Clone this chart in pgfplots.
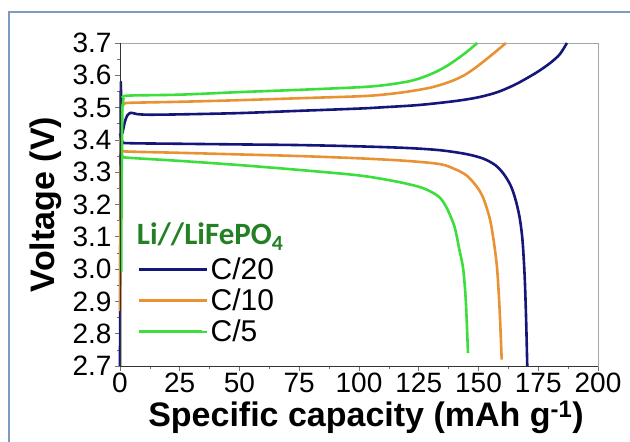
\documentclass[border=0pt]{standalone}
\usepackage{fontspec}
\setmainfont{Liberation Sans}
\newfontfamily\carlito{Carlito}
\usepackage{pgfplots}
\pgfplotsset{compat=1.18}
\definecolor{cnavy}{RGB}{20,22,122}
\definecolor{corange}{RGB}{232,146,52}
\definecolor{cgreen}{RGB}{60,222,60}
\definecolor{ctitle}{RGB}{36,128,36}
\definecolor{cframe}{RGB}{125,155,192}
\begin{document}
\begin{tikzpicture}[x=1pt,y=1pt]
\path[use as bounding box] (0,0) rectangle (630,442);
\draw[cframe, line width=1.2pt] (9,0) -- (9,430) -- (630,430);
\begin{axis}[
  at={(120pt,76pt)}, anchor=south west,
  scale only axis, width=478pt, height=323pt,
  xmin=0, xmax=200, ymin=2.7, ymax=3.7,
  xtick={0,25,...,200},
  ytick={2.7,2.8,...,3.71},
  minor x tick num=1, minor y tick num=1,
  xtick pos=bottom, ytick pos=left,
  tick align=outside,
  major tick length=5pt, minor tick length=3pt,
  tick style={black!55, line width=0.6pt},
  axis line style={black!35, line width=0.8pt},
  clip=false,
  /pgf/number format/assume math mode=true,
  ticklabel style={font=\fontsize{28}{28}\selectfont},
  xticklabel style={inner ysep=2pt, /pgf/number format/.cd, fixed, precision=0},
  yticklabel style={/pgf/number format/.cd, fixed, fixed zerofill, precision=1},
  xlabel={Specific capacity (mAh g\textsuperscript{-1})},
  ylabel={Voltage (V)},
  label style={font=\bfseries\fontsize{34}{34}\selectfont},
  xlabel style={at={(axis description cs:0.5146,-0.188)}, anchor=base, inner sep=0pt},
  ylabel style={at={(axis description cs:-0.155,0.5)}, anchor=center},
  legend style={draw=none, fill=none, at={(axis cs:7,3.045)}, anchor=north west,
    font=\fontsize{30}{30}\selectfont, row sep=4pt, inner sep=1pt},
  legend cell align=left,
  legend image code/.code={\draw[#1, line width=2.8pt] (0pt,0pt) -- (63pt,0pt); \path (0pt,0pt) -- (68pt,0pt);},
  every axis plot/.append style={line width=2.6pt, line join=round},
]
% C/20
\addplot[cnavy, smooth, tension=0.5] coordinates {(1.0,3.42) (2,3.455) (3,3.475) (4.5,3.484) (7,3.480) (12,3.478) (25,3.479) (50,3.483) (75,3.490) (100,3.497) (110,3.501) (125,3.508) (140,3.520) (150,3.532) (158,3.548) (165,3.570) (170,3.590) (175,3.612) (180,3.638) (184,3.665) (187,3.70)};
\addlegendentry{C/20}
\addplot[cnavy, forget plot] coordinates {(0,2.70) (0.2,3.30) (0.35,3.58) (0.6,3.45) (1.0,3.42)};
\addplot[cnavy, forget plot, smooth, tension=0.5] coordinates {(0,3.42) (1,3.395) (3,3.390) (25,3.388) (50,3.386) (75,3.384) (100,3.380) (120,3.375) (134,3.368) (145,3.356) (152,3.342) (157,3.322) (160.5,3.295) (163.5,3.258) (165.5,3.215) (167.2,3.160) (168.4,3.09) (169.3,2.98) (169.9,2.85) (170.4,2.70)};
% C/10
\addplot[corange, smooth, tension=0.5] coordinates {(1.0,3.505) (2,3.513) (5,3.515) (25,3.518) (50,3.523) (75,3.529) (100,3.535) (110,3.540) (120,3.549) (130,3.562) (138,3.580) (144,3.600) (149,3.625) (153,3.648) (157,3.672) (161.5,3.70)};
\addlegendentry{C/10}
\addplot[corange, forget plot] coordinates {(0.1,2.87) (0.3,3.30) (0.6,3.48) (1.0,3.505)};
\addplot[corange, forget plot, smooth, tension=0.5] coordinates {(0.2,3.40) (1,3.368) (3,3.364) (25,3.360) (50,3.355) (75,3.350) (100,3.343) (120,3.335) (133.9,3.325) (140,3.31) (145,3.29) (149.2,3.256) (152,3.22) (154.8,3.154) (156.5,3.08) (157.8,3.00) (158.8,2.88) (159.7,2.72)};
% C/5
\addplot[cgreen, smooth, tension=0.5] coordinates {(1.5,3.530) (3,3.537) (25,3.540) (50,3.548) (75,3.555) (100,3.563) (110,3.569) (120,3.580) (126,3.592) (132,3.610) (137,3.630) (141,3.650) (145,3.672) (149.5,3.70)};
\addlegendentry{C/5}
\addplot[cgreen, forget plot] coordinates {(0.5,2.99) (0.7,3.30) (1.0,3.50) (1.5,3.530)};
\addplot[cgreen, forget plot, smooth, tension=0.5] coordinates {(0.5,3.38) (1,3.350) (3,3.345) (25,3.335) (50,3.322) (75,3.307) (100,3.290) (115,3.272) (125,3.255) (130,3.240) (134,3.220) (137,3.185) (140,3.130) (142,3.06) (143.6,3.00) (144.7,2.90) (145.6,2.74)};
\draw[black!80, line width=0.8pt] (rel axis cs:0,1) -- (rel axis cs:0,0) -- (rel axis cs:1,0);
\node[anchor=west, text=ctitle, font=\carlito\bfseries\fontsize{31}{31}\selectfont, inner sep=0pt] at (axis cs:7,3.10) {Li//LiFePO\textsubscript{4}};
\end{axis}
\end{tikzpicture}
\end{document}
